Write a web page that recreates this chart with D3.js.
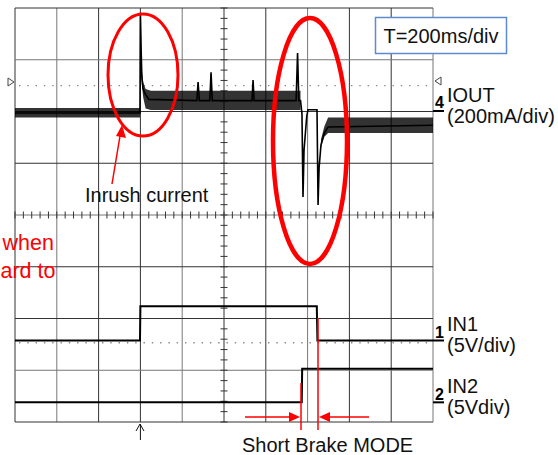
<!DOCTYPE html>
<html>
<head>
<meta charset="utf-8">
<script src="https://cdn.jsdelivr.net/npm/d3@7"></script>
<style>
body { margin: 0; background: #fff; }
svg { display: block; font-family: "Liberation Sans", Arial, sans-serif; }
</style>
</head>
<body>
<svg width="558" height="455"></svg>
<script>
/* scope settings */
var msPerDiv = 200, mAPerDiv = 200, vPerDiv = 5;

/* IOUT: [time ms, current mA] */
var ioutTrace = [
    [0, -8], [598, -8], [600, 380], [602, 300], [604, 220], [607, 130], [612, 90], [620, 70], [640, 45],
    [870, 40], [876, 112], [882, 40], [932, 40], [938, 150], [944, 40], [1134, 40], [1139, 120], [1144, 40],
    [1345, 40], [1352, 224], [1358, 40], [1366, 40], [1373, -10], [1378, -332], [1383, -150], [1388, -100],
    [1396, -20], [1402, 5], [1445, 5], [1450, -363], [1455, -220], [1464, -131], [1480, -85], [1498, -62], [2000, -55]
];
/* IOUT noise band: [time ms, low mA, high mA], null = gap */
var ioutBand = [
    [0, -25, 12], [598, -25, 12], null,
    [604, 150, 230], [608, 90, 150], [614, 50, 110], [625, 10, 85], [650, 4, 78], [1366, 4, 78], null,
    [1464, -140, -110], [1480, -100, -60], [1498, -85, -25], [2000, -85, -25]
];
/* IN1 / IN2: [time ms, volts] */
var in1Trace = [[0, 0], [598, 0], [600, 3.3], [1444, 3.3], [1447, 0], [2000, 0]];
var in2Trace = [[0, 0], [1372, 0], [1374, 3.25], [2000, 3.25]];

/* channel ground positions, in divisions from centre */
var ioutZero = 2.01, in1Zero = -2.425, in2Zero = -3.62;
var cursorLevels = [2.5, -2.47];

var svg = d3.select("svg");

var x = d3.scaleLinear().domain([0, 10 * msPerDiv]).range([15, 433]);
var y = d3.scaleLinear().domain([-4, 4]).range([422, 8]);

var grid = svg.append("g").attr("class", "grid");

grid.selectAll("line.v")
    .data(d3.range(0, 10 * msPerDiv + 1, msPerDiv))
    .enter().append("line")
    .attr("x1", function (d) { return x(d); })
    .attr("x2", function (d) { return x(d); })
    .attr("y1", y(4)).attr("y2", y(-4))
    .attr("stroke", function (d, i) { return i % 3 == 1 ? "#777" : "#333"; })
    .attr("stroke-width", 1);

grid.selectAll("line.h")
    .data(d3.range(-4, 5))
    .enter().append("line")
    .attr("y1", function (d) { return y(d); })
    .attr("y2", function (d) { return y(d); })
    .attr("x1", x(0)).attr("x2", x(10 * msPerDiv))
    .attr("stroke", function (d, i) { return i % 3 == 1 ? "#777" : "#333"; })
    .attr("stroke-width", 1);

// minor ticks on centre axes
grid.selectAll("line.tx")
    .data(d3.range(0, 10 * msPerDiv + 1, msPerDiv / 5))
    .enter().append("line")
    .attr("x1", function (d) { return x(d); })
    .attr("x2", function (d) { return x(d); })
    .attr("y1", y(0) - 3.5).attr("y2", y(0) + 3.5)
    .attr("stroke", "#333");

grid.selectAll("line.ty")
    .data(d3.range(-20, 21).map(function (d) { return d / 5; }))
    .enter().append("line")
    .attr("y1", function (d) { return y(d); })
    .attr("y2", function (d) { return y(d); })
    .attr("x1", x(5 * msPerDiv) - 3.5).attr("x2", x(5 * msPerDiv) + 3.5)
    .attr("stroke", "#333");

// cursor dotted lines
grid.selectAll("line.cur")
    .data(cursorLevels)
    .enter().append("line")
    .attr("y1", function (d) { return y(d); })
    .attr("y2", function (d) { return y(d); })
    .attr("x1", x(0) + 4).attr("x2", x(10 * msPerDiv))
    .attr("stroke", "#888")
    .attr("stroke-width", 1.4)
    .attr("stroke-dasharray", "1.4,6.9");

// trigger level markers
svg.append("path").attr("d", "M8,78 L14,82 L8,86 Z").attr("fill", "#fff").attr("stroke", "#444");
svg.append("path").attr("d", "M441,77 L435,81 L441,85 Z").attr("fill", "#fff").attr("stroke", "#444");

/* traces */
var band = d3.area()
    .defined(function (d) { return d; })
    .x(function (d) { return x(d[0]); })
    .y0(function (d) { return y(ioutZero + d[1] / mAPerDiv); })
    .y1(function (d) { return y(ioutZero + d[2] / mAPerDiv); });

svg.append("path")
    .datum(ioutBand)
    .attr("d", band)
    .attr("fill", "#000")
    .attr("opacity", 0.8);

function traceLine(zero, perDiv) {
    return d3.line()
        .x(function (d) { return x(d[0]); })
        .y(function (d) { return y(zero + d[1] / perDiv); });
}

svg.append("path")
    .datum(ioutTrace)
    .attr("d", traceLine(ioutZero, mAPerDiv))
    .attr("fill", "none").attr("stroke", "#000").attr("stroke-width", 1.6);

svg.append("path")
    .datum(in1Trace)
    .attr("d", traceLine(in1Zero, vPerDiv))
    .attr("fill", "none").attr("stroke", "#000").attr("stroke-width", 2);

svg.append("path")
    .datum(in2Trace)
    .attr("d", traceLine(in2Zero, vPerDiv))
    .attr("fill", "none").attr("stroke", "#000").attr("stroke-width", 2);

/* channel labels */
var channels = [
    { num: "4", zero: ioutZero, name: "IOUT", scale: "(200mA/div)" },
    { num: "1", zero: in1Zero, name: "IN1", scale: "(5V/div)" },
    { num: "2", zero: in2Zero, name: "IN2", scale: "(5Vdiv)" }
];

channels.forEach(function (c) {
    var yy = y(c.zero);
    svg.append("line").attr("x1", 433).attr("x2", 444).attr("y1", yy).attr("y2", yy)
        .attr("stroke", "#000").attr("stroke-width", 2);
    svg.append("text").attr("x", 439.5).attr("y", yy - 2.5).attr("text-anchor", "middle")
        .attr("font-family", "'Liberation Sans Narrow', 'Liberation Sans', Arial, sans-serif")
        .attr("font-size", 16).attr("font-weight", "bold").text(c.num);
    svg.append("text").attr("x", 447).attr("y", yy - 9).attr("font-size", 20).attr("fill", "#111").text(c.name);
    svg.append("text").attr("x", 447).attr("y", yy + 12).attr("font-size", 20).attr("fill", "#111").text(c.scale);
});

/* time base box */
svg.append("rect").attr("x", 375.5).attr("y", 17.5).attr("width", 131).attr("height", 36)
    .attr("fill", "#fff").attr("stroke", "#5b8bd0").attr("stroke-width", 1.5);
svg.append("text").attr("x", 441).attr("y", 43).attr("text-anchor", "middle")
    .attr("font-size", 20).attr("fill", "#111").text("T=200ms/div");

/* annotations */
var red = "#f00";
svg.append("ellipse").attr("cx", 143).attr("cy", 75).attr("rx", 35).attr("ry", 61)
    .attr("fill", "none").attr("stroke", red).attr("stroke-width", 3);
svg.append("ellipse").attr("cx", 310).attr("cy", 141).attr("rx", 37).attr("ry", 123)
    .attr("fill", "none").attr("stroke", red).attr("stroke-width", 4.5);

svg.append("line").attr("x1", 112).attr("y1", 184).attr("x2", 120).attr("y2", 136)
    .attr("stroke", red).attr("stroke-width", 1.5);
svg.append("path").attr("d", "M122,125 L126,138 L116,136 Z").attr("fill", red);

svg.append("text").attr("x", 85).attr("y", 202).attr("font-size", 20).attr("fill", "#111").text("Inrush current");

svg.append("text").attr("x", 54).attr("y", 250).attr("text-anchor", "end")
    .attr("font-size", 21.5).attr("fill", red).text("when");
svg.append("text").attr("x", 0.5).attr("y", 278)
    .attr("font-size", 21.5).attr("fill", red).text("ard to");

// short brake markers
svg.append("line").attr("x1", 301).attr("x2", 301).attr("y1", 383).attr("y2", 430)
    .attr("stroke", red).attr("stroke-width", 1.5);
svg.append("line").attr("x1", 318).attr("x2", 318).attr("y1", 318).attr("y2", 430)
    .attr("stroke", red).attr("stroke-width", 1.5);
svg.append("line").attr("x1", 245).attr("x2", 290).attr("y1", 417).attr("y2", 417)
    .attr("stroke", red).attr("stroke-width", 1.5);
svg.append("path").attr("d", "M300,417 L289,412 L289,422 Z").attr("fill", red);
svg.append("line").attr("x1", 329).attr("x2", 369).attr("y1", 417).attr("y2", 417)
    .attr("stroke", red).attr("stroke-width", 1.5);
svg.append("path").attr("d", "M319,417 L330,412 L330,422 Z").attr("fill", red);

svg.append("text").attr("x", 242).attr("y", 452).attr("font-size", 20).attr("fill", "#111").text("Short Brake MODE");

// trigger point arrow
svg.append("line").attr("x1", x(3 * msPerDiv)).attr("x2", x(3 * msPerDiv)).attr("y1", 424).attr("y2", 440)
    .attr("stroke", "#111").attr("stroke-width", 1);
svg.append("path").attr("d", "M136,431 L140,424 L144,431")
    .attr("fill", "none").attr("stroke", "#111").attr("stroke-width", 1);
</script>
</body>
</html>
